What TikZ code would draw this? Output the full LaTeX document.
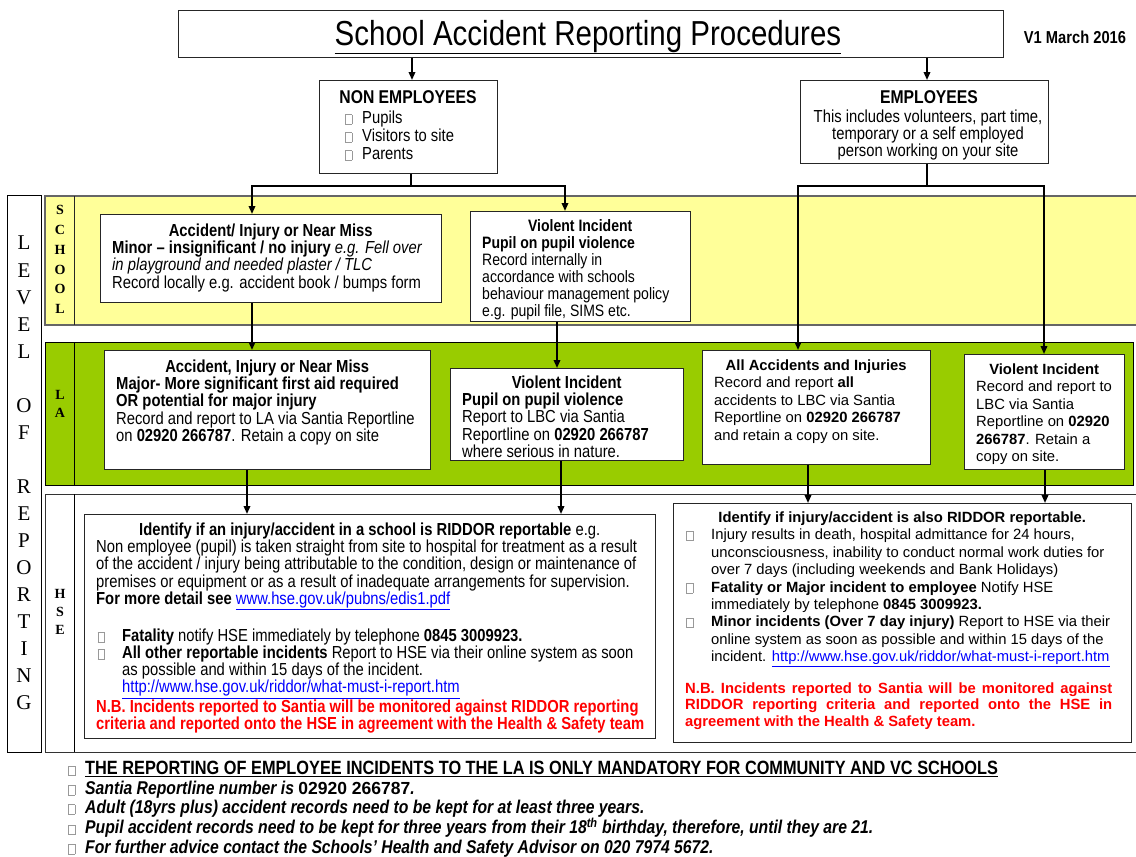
\documentclass[tikz,border=0pt]{standalone}
\usepackage{fontspec}
\setmainfont{Liberation Sans}
\newfontfamily\nar[FakeStretch=0.85]{Liberation Sans}
\newfontfamily\tms{Liberation Serif}
\usetikzlibrary{arrows.meta,calc}
\definecolor{ybd}{HTML}{FFFF99}
\definecolor{gbd}{HTML}{99CC00}
\definecolor{rd}{HTML}{FF0000}
\definecolor{lnkc}{HTML}{0000FF}
\newcommand\bul{\raisebox{-0.5pt}{\textcolor{black!40}{\setlength\fboxrule{0.6pt}\setlength\fboxsep{0pt}\fbox{\rule{0pt}{9pt}\hspace{6pt}}}}}
\newcommand\lnk[1]{\textcolor{lnkc}{\underline{#1}}}
\newcommand\ctr[2]{\makebox[#1][c]{#2}}
\begin{document}
\begin{tikzpicture}[x=1pt,y=-1pt,
 bx/.style={draw=black!85,line width=0.9pt,fill=white,anchor=north west,inner sep=0pt},
 nt/.style={anchor=north west,inner sep=0pt,align=left,font={\nar\fontsize{17.4pt}{17.3pt}\selectfont}},
 rt/.style={anchor=north west,inner sep=0pt,align=left,font={\fontsize{14.8pt}{17.4pt}\selectfont}},
 ln/.style={line width=1.8pt},
 arr/.style={line width=1.8pt,-{Triangle[length=8pt,width=6.5pt]}},
 lv/.style={inner sep=0pt,align=center,font={\tms\fontsize{21pt}{27.06pt}\selectfont}},
 bl/.style={inner sep=0pt,align=center,font={\tms\bfseries\fontsize{14pt}{19.7pt}\selectfont}}]
\useasboundingbox (0,0) rectangle (1136,857);
\fill[white] (0,0) rectangle (1136,857);
% bands
\fill[ybd] (45,196) rectangle (1136,325);
\draw[black!60,line width=1.2pt] (1136,196) -- (45,196) -- (45,325) -- (1136,325);
\draw[black!85,line width=0.8pt] (74,196) -- (74,325);
\draw[black,line width=0.9pt,fill=gbd] (45,342) rectangle (1133,485);
\draw[black,line width=0.8pt] (74,342) -- (74,485);
\draw[black!80,line width=1pt] (1136,494) -- (45,494) -- (45,752) -- (1136,752);
\draw[black,line width=0.8pt] (74,494) -- (74,752);
\draw[line width=0.8pt] (7,195) rectangle (41,752);
% level letters
\node[lv,anchor=north] (lvl) at (24,236) {L\\E\\V\\E\\L\\[27.06pt]O\\F\\[27.06pt]R\\E\\P\\O\\R\\T\\I\\N\\G};
\node[bl,anchor=north] (sch) at (60,205.5) {S\\C\\H\\O\\O\\L};
\node[bl,anchor=north] (la) at (60,390) {L\\[-1.5pt]A};
\node[bl,anchor=north] (hse) at (60,589) {H\\[-1.5pt]S\\[-1.5pt]E};
% title
\node[bx,minimum width=825,minimum height=47] (title) at (178,10) {};
\node[anchor=base,inner sep=0pt,font={\nar\fontsize{34.7pt}{36pt}\selectfont}] (tt) at (588,45) {\underline{School Accident Reporting Procedures}};
\node[anchor=base,inner sep=0pt,font={\nar\bfseries\fontsize{17.3pt}{18pt}\selectfont}] (ver) at (1075,43) {V1 March 2016};
% top boxes
\node[bx,minimum width=178,minimum height=93] (ne) at (319,80) {};
\node[nt,anchor=north,font={\nar\bfseries\fontsize{18.5pt}{18pt}\selectfont}] (net) at (408,90.5) {NON EMPLOYEES};
\node[nt,font={\nar\fontsize{17.4pt}{18pt}\selectfont}] (nel) at (345,110.5) {\makebox[17pt][l]{\bul}Pupils\\\makebox[17pt][l]{\bul}Visitors to site\\\makebox[17pt][l]{\bul}Parents};
\node[bx,minimum width=248,minimum height=83] (emp) at (800,80) {};
\node[nt,anchor=north,font={\nar\bfseries\fontsize{18.5pt}{18pt}\selectfont}] (empt) at (929,90.5) {EMPLOYEES};
\node[nt,anchor=north,align=center,font={\nar\fontsize{17.4pt}{17pt}\selectfont}] (empd) at (928,109.5) {This includes volunteers, part time,\\temporary or a self employed\\person working on your site};
% level boxes
\node[bx,minimum width=341,minimum height=88] (A) at (100,214) {};
\node[bx,minimum width=220,minimum height=110] (B) at (470,211) {};
\node[bx,minimum width=326,minimum height=119] (C) at (104,350) {};
\node[bx,minimum width=233,minimum height=92] (D) at (450,368) {};
\node[bx,minimum width=228,minimum height=114] (E) at (702,350) {};
\node[bx,minimum width=160,minimum height=115] (F) at (964,354) {};
\node[bx,minimum width=571,minimum height=224] (G) at (84,514) {};
\node[bx,minimum width=458,minimum height=239] (H) at (673,503) {};
% connector x positions
\coordinate (xt1) at (412,0);
\coordinate (xt2) at (927,0);
\coordinate (j1) at (411,186);
\coordinate (j2) at (927,186);
\coordinate (xa) at (252,0);
\coordinate (xb) at (565,0);
\coordinate (xe) at (798,0);
\coordinate (xf) at (1044,0);
\coordinate (xbd) at (557,0);
\coordinate (xc) at (247,0);
\coordinate (xd) at (561,0);
\coordinate (xeh) at (808,0);
\coordinate (xfh) at (1045,0);
\draw[arr] (title.south -| xt1) -- (ne.north -| xt1);
\draw[arr] (title.south -| xt2) -- (emp.north -| xt2);
\draw[ln] (ne.south -| j1) -- (j1);
\draw[arr] (j1) -| (A.north -| xa);
\draw[arr] (j1) -| (B.north -| xb);
\draw[ln] (emp.south -| j2) -- (j2);
\draw[arr] (j2) -| (E.north -| xe);
\draw[arr] (j2) -| (F.north -| xf);
\draw[arr] (A.south -| xa) -- (C.north -| xa);
\draw[arr] (B.south -| xbd) -- (D.north -| xbd);
\draw[arr] (C.south -| xc) -- (G.north -| xc);
\draw[arr] (D.south -| xd) -- (G.north -| xd);
\draw[arr] (E.south -| xeh) -- (H.north -| xeh);
\draw[arr] (F.south -| xfh) -- (H.north -| xfh);
% box texts
\node[nt] (At) at (112,223.5) {\ctr{317pt}{\textbf{Accident/ Injury or Near Miss}}\\\textbf{Minor – insignificant / no injury} \textit{e.g. Fell over}\\\textit{in playground and needed plaster / TLC}\\Record locally e.g. accident book / bumps form};
\node[nt,font={\nar\fontsize{16.5pt}{17pt}\selectfont}] (Bt) at (482,219.5) {\ctr{196pt}{\textbf{Violent Incident}}\\\textbf{Pupil on pupil violence}\\Record internally in\\accordance with schools\\behaviour management policy\\e.g. pupil file, SIMS etc.};
\node[nt] (Ct) at (116,359.5) {\ctr{302pt}{\textbf{Accident, Injury or Near Miss}}\\\textbf{Major- More significant first aid required}\\\textbf{OR potential for major injury}\\Record and report to LA via Santia Reportline\\on \textbf{02920 266787}. Retain a copy on site};
\node[nt] (Dt) at (462,375.5) {\ctr{209pt}{\textbf{Violent Incident}}\\\textbf{Pupil on pupil violence}\\Report to LBC via Santia\\Reportline on \textbf{02920 266787}\\where serious in nature.};
\node[rt] (Et) at (714,359.5) {\ctr{204pt}{\textbf{All Accidents and Injuries}}\\Record and report \textbf{all}\\accidents to LBC via Santia\\Reportline on \textbf{02920 266787}\\and retain a copy on site.};
\node[rt] (Ft) at (976,363.5) {\ctr{136pt}{\textbf{Violent Incident}}\\Record and report to\\LBC via Santia\\Reportline on \textbf{02920}\\\textbf{266787}. Retain a\\copy on site.};
\node[nt] (Gt) at (96,522.5) {\ctr{547pt}{\textbf{Identify if an injury/accident in a school is RIDDOR reportable} e.g.}\\Non employee (pupil) is taken straight from site to hospital for treatment as a result\\of the accident / injury being attributable to the condition, design or maintenance of\\premises or equipment or as a result of inadequate arrangements for supervision.\\\textbf{For more detail see} \lnk{www.hse.gov.uk/pubns/edis1.pdf}\\[17.3pt]\makebox[26pt][l]{\hspace{1.5pt}\bul}\textbf{Fatality} notify HSE immediately by telephone \textbf{0845 3009923.}\\\makebox[26pt][l]{\hspace{1.5pt}\bul}\textbf{All other reportable incidents} Report to HSE via their online system as soon\\\hspace*{26pt}as possible and within 15 days of the incident.\\\hspace*{26pt}\lnk{http://www.hse.gov.uk/riddor/what-must-i-report.htm}\\\textcolor{rd}{\textbf{N.B. Incidents reported to Santia will be monitored against RIDDOR reporting}}\\\textcolor{rd}{\textbf{criteria and reported onto the HSE in agreement with the Health \& Safety team}}};
\node[rt] (Ht) at (685,511.5) {\ctr{434pt}{\textbf{Identify if injury/accident is also RIDDOR reportable.}}\\\makebox[26pt][l]{\hspace{1pt}\bul}Injury results in death, hospital admittance for 24 hours,\\\hspace*{26pt}unconsciousness, inability to conduct normal work duties for\\\hspace*{26pt}over 7 days (including weekends and Bank Holidays)\\\makebox[26pt][l]{\hspace{1pt}\bul}\textbf{Fatality or Major incident to employee} Notify HSE\\\hspace*{26pt}immediately by telephone \textbf{0845 3009923.}\\\makebox[26pt][l]{\hspace{1pt}\bul}\textbf{Minor incidents (Over 7 day injury)} Report to HSE via their\\\hspace*{26pt}online system as soon as possible and within 15 days of the\\\hspace*{26pt}incident. \lnk{http://www.hse.gov.uk/riddor/what-must-i-report.htm}\\[14.5pt]\textcolor{rd}{\bfseries\makebox[427pt][s]{N.B. Incidents reported to Santia will be monitored against}}\\[-1pt]\textcolor{rd}{\bfseries\makebox[427pt][s]{RIDDOR reporting criteria and reported onto the HSE in}}\\[-1pt]\textcolor{rd}{\bfseries agreement with the Health \& Safety team.}};
% notes
\node[anchor=north west,inner sep=0pt,align=left,font={\nar\bfseries\itshape\fontsize{18.5pt}{19.3pt}\selectfont}] (notes) at (66,761.2) {\makebox[19pt][l]{\hspace{2pt}\bul}{\upshape\fontsize{19.2pt}{19.3pt}\selectfont\underline{THE REPORTING OF EMPLOYEE INCIDENTS TO THE LA IS ONLY MANDATORY FOR COMMUNITY AND VC SCHOOLS}}\\\makebox[19pt][l]{\hspace{2pt}\bul}Santia Reportline number is {\normalfont\bfseries\fontsize{17.5pt}{19.3pt}\selectfont 02920 266787}.\\\makebox[19pt][l]{\hspace{2pt}\bul}Adult (18yrs plus) accident records need to be kept for at least three years.\\\makebox[19pt][l]{\hspace{2pt}\bul}Pupil accident records need to be kept for three years from their 18\textsuperscript{th} birthday, therefore, until they are 21.\\\makebox[19pt][l]{\hspace{2pt}\bul}For further advice contact the Schools’ Health and Safety Advisor on 020 7974 5672.};
\end{tikzpicture}
\end{document}
